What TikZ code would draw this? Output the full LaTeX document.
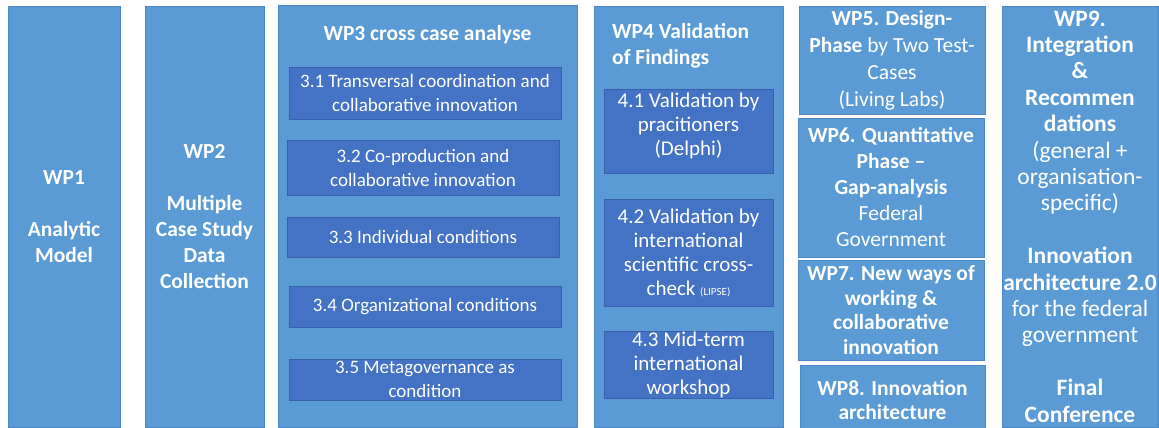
\documentclass[tikz,border=0pt]{standalone}
\usepackage{fontspec}
\setmainfont{Carlito}
\definecolor{wpfill}{HTML}{5B9BD5}
\definecolor{wpline}{HTML}{4C88C6}
\definecolor{subfill}{HTML}{4472C4}
\definecolor{subline}{HTML}{3960AA}
\begin{document}
\begin{tikzpicture}[x=1pt,y=-1pt,
  wp/.style={draw=wpline, line width=0.8pt, fill=wpfill, text=white,
    inner sep=0pt, align=center},
  sub/.style={draw=subline, line width=0.8pt, fill=subfill, text=white,
    inner sep=0pt, align=center},
  bigfont/.style={font=\fontsize{21.5}{26}\selectfont},
  titlefont/.style={font=\fontsize{21.5}{26}\selectfont\bfseries},
  subfont/.style={font=\fontsize{19}{24}\selectfont},
  fourfont/.style={font=\fontsize{21}{24}\selectfont},
  nine/.style={font=\fontsize{23.5}{26.4}\selectfont},
  label/.style={text=white, inner sep=0pt}]
\useasboundingbox (0,0) rectangle (1159,428);

% work packages 1 and 2
\node[wp, bigfont, text depth=0pt, minimum width=112pt, minimum height=421pt] (wp1) at (64,216.5)
  {\bfseries WP1\\[26pt]\bfseries Analytic\\\bfseries Model};
\node[wp, bigfont, text depth=0pt, minimum width=119pt, minimum height=421pt] (wp2) at (204.5,216.5)
  {\bfseries WP2\\[26pt]\bfseries Multiple\\\bfseries Case Study\\\bfseries Data\\\bfseries Collection};

% work package 3 with its sub-tasks
\node[wp, minimum width=299pt, minimum height=422pt] (wp3) at (427.5,216) {};
\node[label, titlefont] (wp3t) at (427.5,35) {WP3 cross case analyse};
\node[sub, subfont, minimum width=272pt, minimum height=52pt] (s31) at (425,93)
  {3.1 Transversal coordination and\\collaborative innovation};
\node[sub, subfont, minimum width=272pt, minimum height=55pt] (s32) at (423,167.5)
  {3.2 Co-production and\\collaborative innovation};
\node[sub, subfont, minimum width=272pt, minimum height=40pt] (s33) at (423,237)
  {3.3 Individual conditions};
\node[sub, subfont, minimum width=272pt, minimum height=41pt] (s34) at (425,306.5)
  {3.4 Organizational conditions};
\node[sub, subfont, minimum width=272pt, minimum height=41pt] (s35) at (425,379.5)
  {3.5 Metagovernance as\\condition};

% work package 4 with its sub-tasks
\node[wp, minimum width=189pt, minimum height=421pt] (wp4) at (688.5,216.5) {};
\node[label, titlefont, align=left, anchor=west] (wp4t) at (612,46)
  {WP4 Validation\\of Findings};
\node[sub, fourfont, text depth=13pt, minimum width=169pt, minimum height=84pt] (s41) at (688.5,131)
  {4.1 Validation by\\pracitioners\\(Delphi)};
\node[sub, fourfont, minimum width=169pt, minimum height=107pt] (s42) at (688.5,252.5)
  {4.2 Validation by\\international\\scientific cross-\\check {\fontsize{11}{13}\selectfont (LIPSE)}};
\node[sub, fourfont, minimum width=169pt, minimum height=67pt] (s43) at (688.5,364.5)
  {4.3 Mid-term\\international\\workshop};

% work packages 5 to 8
\node[wp, font=\fontsize{21.5}{27}\selectfont, minimum width=186pt, minimum height=108pt] (wp5) at (892,60)
  {\textbf{WP5. Design-}\\\textbf{Phase} by Two Test-\\Cases\\(Living Labs)};
\node[wp, bigfont, minimum width=186pt, minimum height=139pt] (wp6) at (891,187.5)
  {\textbf{WP6. Quantitative}\\\textbf{Phase --}\\\textbf{Gap-analysis}\\Federal\\Government};
\node[wp, font=\fontsize{21.5}{24.7}\selectfont\bfseries, minimum width=186pt, minimum height=100pt] (wp7) at (891,310)
  {WP7. New ways of\\working \&\\collaborative\\innovation};
\node[wp, font=\fontsize{21.5}{24}\selectfont\bfseries, minimum width=185pt, minimum height=71pt] (wp8) at (892.5,400.5)
  {WP8. Innovation\\architecture};

% work package 9
\node[wp, nine, minimum width=156pt, minimum height=421pt] (wp9) at (1080,216.5)
  {\textbf{WP9.}\\\textbf{Integration}\\\textbf{\&}\\\textbf{Recommen}\\\textbf{dations}\\(general +\\organisation-\\specific)\\[26.4pt]
   \textbf{Innovation}\\\textbf{architecture 2.0}\\for the federal\\government\\[26.4pt]
   \textbf{Final}\\\textbf{Conference}};
\end{tikzpicture}
\end{document}
